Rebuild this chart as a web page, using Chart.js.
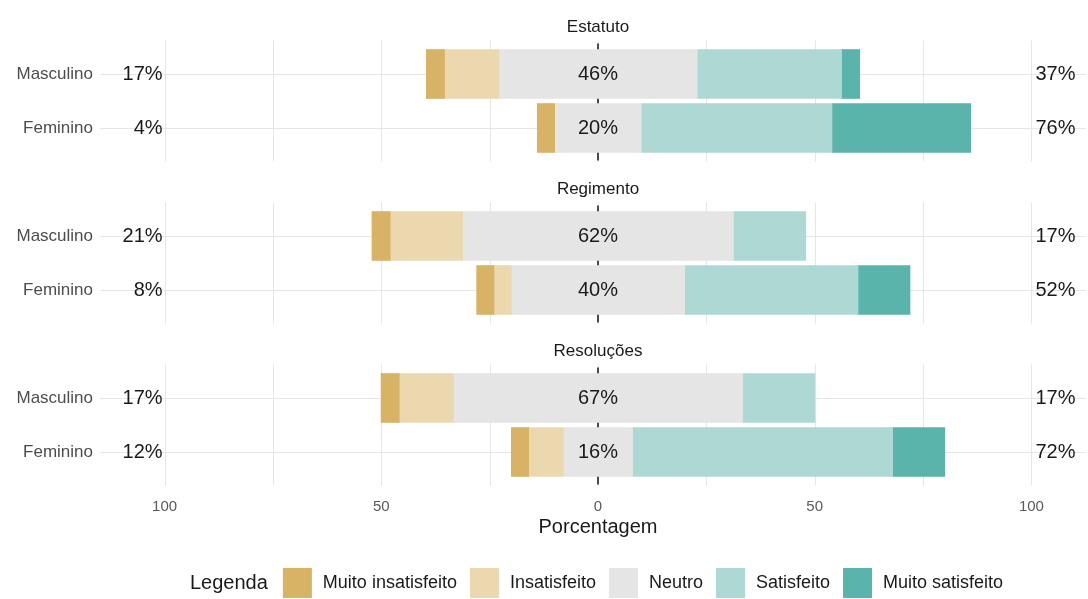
<!DOCTYPE html>
<html>
<head>
<meta charset="utf-8">
<script src="https://cdn.jsdelivr.net/npm/chart.js@4.4.1/dist/chart.umd.min.js"></script>
<style>
  html, body { margin: 0; padding: 0; background: #ffffff; }
  #wrap { width: 1088px; height: 599px; position: relative; }
</style>
</head>
<body>
<div id="wrap"><canvas id="c" width="1088" height="599"></canvas></div>
<script>
// ---------------- data ----------------
const facets = ['Estatuto', 'Regimento', 'Resoluções'];
const groups = ['Masculino', 'Feminino'];
const levels = ['Muito insatisfeito', 'Insatisfeito', 'Neutro', 'Satisfeito', 'Muito satisfeito'];
const levelColors = ['#D8B365', '#EBD8AF', '#E5E5E5', '#ADD8D4', '#5AB4AC'];
// row order: Estatuto M, Estatuto F, Regimento M, Regimento F, Resoluções M, Resoluções F
const muitoInsatisfeito = [4.2, 4.0, 4.2, 4.0, 4.2, 4.0];
const insatisfeito      = [12.5, 0.0, 16.7, 4.0, 12.5, 8.0];
const neutro            = [45.8, 20.0, 62.5, 40.0, 66.7, 16.0];
const satisfeito        = [33.3, 44.0, 16.7, 40.0, 16.7, 60.0];
const muitoSatisfeito   = [4.2, 32.0, 0.0, 12.0, 0.0, 12.0];
const leftLabels   = ['17%', '4%', '21%', '8%', '17%', '12%'];
const centerLabels = ['46%', '20%', '62%', '40%', '67%', '16%'];
const rightLabels  = ['37%', '76%', '17%', '52%', '17%', '72%'];
const tickValues = [-100, -50, 0, 50, 100];
const gridValues = [-100, -75, -50, -25, 0, 25, 50, 75, 100];
const axisTitle = 'Porcentagem';
const legendTitle = 'Legenda';

// ---------------- build category slots (spacer between facets) ----------------
const rowIdx = [];
const yLabels = [];
facets.forEach((f, fi) => {
  if (fi > 0) yLabels.push(' ');
  groups.forEach(g => { rowIdx.push(yLabels.length); yLabels.push(g); });
});
const nRows = rowIdx.length;
function seg(fn) {
  const d = new Array(yLabels.length).fill(null);
  for (let r = 0; r < nRows; r++) d[rowIdx[r]] = fn(r);
  return d;
}
const half = r => neutro[r] / 2;
const segData = [
  seg(r => muitoInsatisfeito[r] > 0 ? [-half(r) - insatisfeito[r] - muitoInsatisfeito[r], -half(r) - insatisfeito[r]] : null),
  seg(r => insatisfeito[r] > 0 ? [-half(r) - insatisfeito[r], -half(r)] : null),
  seg(r => [-half(r), half(r)]),
  seg(r => satisfeito[r] > 0 ? [half(r), half(r) + satisfeito[r]] : null),
  seg(r => muitoSatisfeito[r] > 0 ? [half(r) + satisfeito[r], half(r) + satisfeito[r] + muitoSatisfeito[r]] : null)
];
const datasets = levels.map((lv, i) => ({
  label: lv,
  data: segData[i],
  backgroundColor: levelColors[i],
  borderWidth: 0,
  barThickness: 49,
  grouped: false
}));

const FONT = '"Liberation Sans", Arial, sans-serif';

function line(ctx, x1, y1, x2, y2) {
  ctx.beginPath(); ctx.moveTo(x1, y1); ctx.lineTo(x2, y2); ctx.stroke();
}

const facetPlugin = {
  id: 'facetPlugin',
  beforeDatasetsDraw(chart) {
    const { ctx, chartArea: a, scales: { x, y } } = chart;
    const band = y.getPixelForValue(1) - y.getPixelForValue(0);
    const x0 = x.getPixelForValue(0);
    ctx.save();
    facets.forEach((f, fi) => {
      const top = y.getPixelForValue(rowIdx[fi * 2]) - band * 0.62;
      const bot = y.getPixelForValue(rowIdx[fi * 2 + 1]) + band * 0.62;
      ctx.strokeStyle = '#E6E6E6';
      ctx.lineWidth = 1;
      gridValues.forEach(v => {
        const px = Math.round(x.getPixelForValue(v)) + 0.5;
        line(ctx, px, top, px, bot);
      });
      groups.forEach((g, gi) => {
        const py = Math.round(y.getPixelForValue(rowIdx[fi * 2 + gi])) + 0.5;
        line(ctx, a.left, py, a.right, py);
      });
      ctx.strokeStyle = '#111111';
      ctx.lineWidth = 1.5;
      line(ctx, x0, top + 3, x0, bot - 1);
    });
    ctx.restore();
  },
  afterDatasetsDraw(chart) {
    const { ctx, chartArea: a, scales: { x, y } } = chart;
    const x0 = x.getPixelForValue(0);
    ctx.save();
    ctx.textBaseline = 'middle';
    // facet titles
    ctx.fillStyle = '#1A1A1A';
    ctx.font = '17px ' + FONT;
    ctx.textAlign = 'center';
    facets.forEach((f, fi) => {
      const py = y.getPixelForValue(rowIdx[fi * 2]) - 47;
      ctx.fillText(f, x0, py);
    });
    // axis title
    ctx.font = '20px ' + FONT;
    ctx.fillText(axisTitle, x0, 527);
    // group labels
    ctx.fillStyle = '#4D4D4D';
    ctx.font = '17px ' + FONT;
    ctx.textAlign = 'right';
    for (let r = 0; r < nRows; r++) {
      ctx.fillText(groups[r % groups.length], a.left - 7, y.getPixelForValue(rowIdx[r]));
    }
    // percent labels
    ctx.fillStyle = '#1A1A1A';
    ctx.font = '20px ' + FONT;
    for (let r = 0; r < nRows; r++) {
      const py = y.getPixelForValue(rowIdx[r]);
      ctx.textAlign = 'right';
      ctx.fillText(leftLabels[r], x.getPixelForValue(-100) - 2, py);
      ctx.textAlign = 'center';
      ctx.fillText(centerLabels[r], x0, py);
      ctx.textAlign = 'left';
      ctx.fillText(rightLabels[r], x.getPixelForValue(100) + 4, py);
    }
    // legend
    const ly = 583;
    let lx = 190;
    ctx.textAlign = 'left';
    ctx.fillStyle = '#1A1A1A';
    ctx.font = '20px ' + FONT;
    ctx.fillText(legendTitle, lx, ly);
    lx += ctx.measureText(legendTitle).width + 15;
    ctx.font = '18px ' + FONT;
    chart.data.datasets.forEach(ds => {
      ctx.fillStyle = ds.backgroundColor;
      ctx.fillRect(lx, ly - 15, 29, 30);
      lx += 29 + 11;
      ctx.fillStyle = '#1A1A1A';
      ctx.fillText(ds.label, lx, ly);
      lx += ctx.measureText(ds.label).width + 13;
    });
    ctx.restore();
  }
};

new Chart(document.getElementById('c'), {
  type: 'bar',
  data: { labels: yLabels, datasets: datasets },
  options: {
    indexAxis: 'y',
    responsive: false,
    animation: false,
    devicePixelRatio: 1,
    layout: { padding: { left: 100, right: 2, top: 47, bottom: 60 } },
    scales: {
      y: { type: 'category', display: false, offset: true, grid: { display: false } },
      x: {
        type: 'linear',
        min: -114.9,
        max: 112.6,
        grid: { display: false },
        border: { display: false },
        afterBuildTicks: s => { s.ticks = tickValues.map(v => ({ value: v })); },
        afterFit: s => { s.height = 60; },
        ticks: {
          callback: v => String(Math.abs(v)),
          color: '#595959',
          font: { family: FONT, size: 15 },
          padding: 11,
          maxRotation: 0,
          autoSkip: false
        },
        title: { display: false }
      }
    },
    plugins: { legend: { display: false }, tooltip: { enabled: false } }
  },
  plugins: [facetPlugin]
});
</script>
</body>
</html>
